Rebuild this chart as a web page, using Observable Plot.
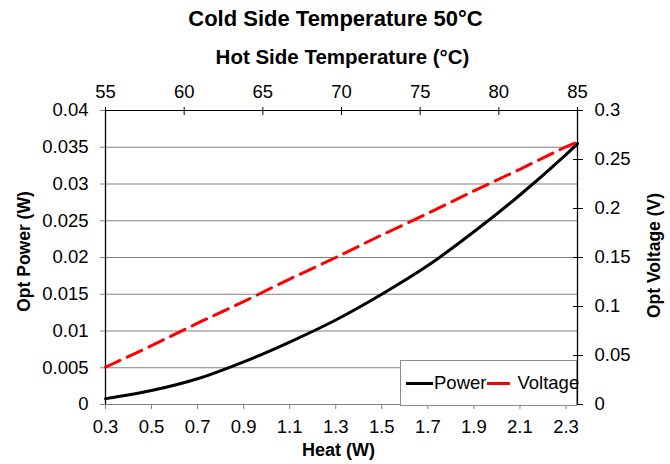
<!DOCTYPE html>
<html>
<head>
<meta charset="utf-8">
<script src="https://cdn.jsdelivr.net/npm/d3@7"></script>
<script src="https://cdn.jsdelivr.net/npm/@observablehq/plot@0.6"></script>
<style>
  body { margin: 0; background: #fff; font-family: "Liberation Sans", Arial, sans-serif; }
  #wrap { position: relative; width: 670px; height: 464px; }
  #legend { position: absolute; left: 400px; top: 360px; width: 177px; height: 46px; border: 1px solid #8c8c8c; background: #fff;
    display: flex; align-items: center; font-size: 18.5px; color: #000; box-sizing: border-box; white-space: nowrap; overflow: visible; }
  .sw { display: inline-block; height: 3px; flex: none; }
</style>
</head>
<body>
<div id="wrap"></div>
<script>
// ---- data ----
const heat    = [0.3, 0.5, 0.7, 0.9, 1.1, 1.3, 1.5, 1.7, 1.9, 2.1, 2.3, 2.35];
const power   = [0.0008, 0.0019, 0.0035, 0.0058, 0.0085, 0.0115, 0.0150, 0.0189, 0.0235, 0.0285, 0.0340, 0.0355];
const voltage = [0.038, 0.060, 0.083, 0.105, 0.128, 0.150, 0.173, 0.195, 0.218, 0.240, 0.263, 0.268];
const heatTicks  = [0.3, 0.5, 0.7, 0.9, 1.1, 1.3, 1.5, 1.7, 1.9, 2.1, 2.3];
const powerTicks = [0, 0.005, 0.01, 0.015, 0.02, 0.025, 0.03, 0.035, 0.04];
const voltTicks  = [0, 0.05, 0.1, 0.15, 0.2, 0.25, 0.3];
const tempTicks  = [55, 60, 65, 70, 75, 80, 85];
const title = "Cold Side Temperature 50°C";
const topTitle = "Hot Side Temperature (°C)";
const xTitle = "Heat (W)";
const yTitle = "Opt Power (W)";
const y2Title = "Opt Voltage (V)";

const xDomain = [0.3, 2.35];
const tempToHeat = d3.scaleLinear().domain([55, 85]).range(xDomain);
const k = 0.04 / 0.3; // voltage -> power axis
const fmt = v => String(+v.toFixed(4));

const rows = heat.map((h, i) => ({heat: h, power: power[i], voltage: voltage[i]}));

const font = "Liberation Sans, Arial, sans-serif";
const TS = 18.5; // tick font size
const chart = Plot.plot({
  width: 670, height: 464,
  marginTop: 110, marginBottom: 60, marginLeft: 105, marginRight: 93,
  style: {fontFamily: font, fontSize: TS + "px", color: "#000", background: "#fff", overflow: "visible"},
  x: {domain: xDomain, axis: null},
  y: {domain: [0, 0.04], axis: null},
  marks: [
    Plot.gridY(powerTicks.slice(1, -1), {stroke: "#808080", strokeOpacity: 1, strokeWidth: 1}),
    Plot.ruleY([0], {stroke: "#808080", strokeWidth: 1}),
    Plot.ruleY([0.04], {stroke: "#000", strokeWidth: 1}),
    Plot.ruleX([xDomain[0]], {stroke: "#000", strokeWidth: 1.3}),
    Plot.ruleX([xDomain[1]], {stroke: "#000", strokeWidth: 1.3}),
    // bottom axis
    Plot.axisX({anchor: "bottom", label: null, ticks: heatTicks, tickFormat: fmt, tickSize: 5, tickPadding: 10, stroke: "#808080", fontSize: TS, fill: "#000"}),
    // top axis (hot side temperature)
    Plot.axisX({anchor: "top", label: null, ticks: tempTicks.map(t => tempToHeat(t)), text: null, tickSize: 4, dy: 4, stroke: "#000"}),
    Plot.axisX({anchor: "top", label: null, ticks: tempTicks.map(t => tempToHeat(t)), tickFormat: h => String(Math.round(tempToHeat.invert(h))), tickSize: 4, tickPadding: 9, stroke: "#000", fontSize: TS, fill: "#000"}),
    // left axis
    Plot.axisY({anchor: "left", label: null, ticks: powerTicks, tickFormat: fmt, tickSize: 5, tickPadding: 12, stroke: "#808080", fontSize: TS, fill: "#000"}),
    // right axis (voltage)
    Plot.axisY({anchor: "right", label: null, ticks: voltTicks.map(v => v * k), text: null, tickSize: 5, dx: -5, stroke: "#000"}),
    Plot.axisY({anchor: "right", label: null, ticks: voltTicks.map(v => v * k), tickFormat: y => fmt(y / k), tickSize: 5, tickPadding: 12, stroke: "#000", fontSize: TS, fill: "#000"}),
    // series
    Plot.line(rows, {x: "heat", y: "power", stroke: "#000", strokeWidth: 3, curve: "catmull-rom"}),
    Plot.line(rows, {x: "heat", y: d => d.voltage * k, stroke: "#ff0000", strokeWidth: 3, strokeDasharray: "16,8"}),
    // titles
    Plot.text([title], {frameAnchor: "top", lineAnchor: "middle", dy: -92, fontSize: 22, fontWeight: "bold", fill: "#000", text: d => d, dx: -6}),
    Plot.text([topTitle], {frameAnchor: "top", lineAnchor: "middle", dy: -53, fontSize: 20.5, fontWeight: "bold", fill: "#000", text: d => d, dx: 1}),
    Plot.text([xTitle], {frameAnchor: "bottom", lineAnchor: "middle", dy: 46, fontSize: 18, fontWeight: "bold", fill: "#000", text: d => d, dx: -3}),
    Plot.text([yTitle], {frameAnchor: "left", dx: -81, dy: -6, rotate: -90, textAnchor: "middle", fontSize: 17.5, fontWeight: "bold", fill: "#000", text: d => d}),
    Plot.text([y2Title], {frameAnchor: "right", dx: 77, dy: -2, rotate: -90, textAnchor: "middle", fontSize: 17.5, fontWeight: "bold", fill: "#000", text: d => d})
  ]
});
document.getElementById("wrap").appendChild(chart);

const legend = document.createElement("div");
legend.id = "legend";
legend.innerHTML = `<span class="sw" style="width:27px;background:#000;margin-left:5px;margin-right:1px"></span><span>Power</span>` +
  `<span class="sw" style="width:23px;background:#ff0000;margin-left:1px;margin-right:7px"></span><span>Voltage</span>`;
document.getElementById("wrap").appendChild(legend);
</script>
</body>
</html>
